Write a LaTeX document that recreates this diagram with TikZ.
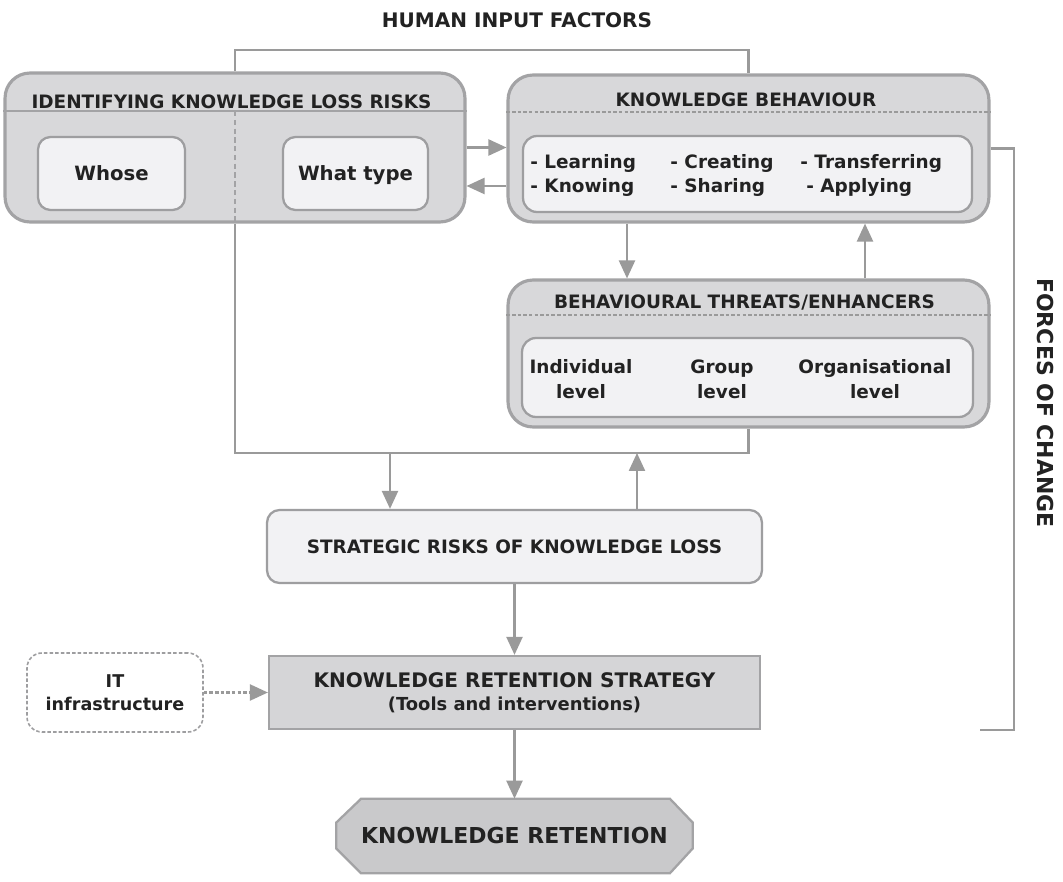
\documentclass[tikz,border=0pt]{standalone}
\usepackage{fontspec}
\setmainfont{DejaVu Sans}
\usetikzlibrary{arrows.meta,calc}
\definecolor{outerfill}{HTML}{D8D8DA}
\definecolor{outerbord}{HTML}{A3A3A5}
\definecolor{innerfill}{HTML}{F2F2F4}
\definecolor{innerbord}{HTML}{9E9EA0}
\definecolor{linec}{HTML}{9A9A9A}
\definecolor{txt}{HTML}{222222}
\definecolor{krsfill}{HTML}{D5D5D7}
\definecolor{krfill}{HTML}{C9C9CB}
\begin{document}
\begin{tikzpicture}[x=0.02cm,y=-0.02cm,
 outerbox/.style={draw=outerbord, fill=outerfill, line width=1.8pt, rounded corners=0.5cm, inner sep=0pt},
 innerbox/.style={draw=innerbord, fill=innerfill, line width=1.3pt, rounded corners=0.28cm, inner sep=0pt},
 lbl/.style={text=txt, font=\bfseries\fontsize{10.5}{13}\selectfont, inner sep=0pt},
 conn/.style={draw=linec, line width=1.3pt},
 arr/.style={conn, -{Triangle[length=0.36cm,width=0.32cm]}},
 dashsep/.style={draw=linec, line width=0.8pt, dash pattern=on 2pt off 1.2pt},
]
\fill[white] (0,0) rectangle (1063,882);
\useasboundingbox (0,0) rectangle (1063,882);

% title
\node[lbl, font=\bfseries\fontsize{11.4}{13}\selectfont] (hif) at (517,20) {HUMAN INPUT FACTORS};

% outer boxes
\node[outerbox, minimum width=9.2cm, minimum height=2.98cm] (iklr) at (235,147.5) {};
\node[outerbox, minimum width=9.62cm, minimum height=2.94cm] (kb) at (748.5,148.5) {};
\node[outerbox, minimum width=9.62cm, minimum height=2.94cm] (bt) at (748.5,353.5) {};

% header separators
\draw[draw=outerbord, line width=1.2pt] (iklr.west |- 0,111) -- (iklr.east |- 0,111);
\draw[outerbord, line width=0.8pt, dash pattern=on 3pt off 2pt] (iklr.center |- 0,111) -- (iklr.south);
\draw[dashsep] (kb.west |- 0,112) -- (kb.east |- 0,112);
\draw[dashsep] (bt.west |- 0,315) -- (bt.east |- 0,315);

% headers
\node[lbl] (iklrhead) at (231.5,102) {IDENTIFYING KNOWLEDGE LOSS RISKS};
\node[lbl] (kbhead) at (746,100) {KNOWLEDGE BEHAVIOUR};
\node[lbl] (bthead) at (744.5,303) {BEHAVIOURAL THREATS/ENHANCERS};

% inner boxes
\node[innerbox, rounded corners=0.25cm, minimum width=2.94cm, minimum height=1.46cm, text depth=0pt,
      font=\bfseries\fontsize{11.2}{13}\selectfont, text=txt] (whose) at (111.5,173.5) {Whose};
\node[innerbox, rounded corners=0.25cm, minimum width=2.9cm, minimum height=1.46cm, text depth=0pt,
      font=\bfseries\fontsize{11.2}{13}\selectfont, text=txt] (whattype) at (355.5,173.5) {What type};
\node[innerbox, minimum width=8.98cm, minimum height=1.52cm] (kbin) at (747.5,174) {};
\node[innerbox, minimum width=9.02cm, minimum height=1.58cm] (btin) at (747.5,377.5) {};

% knowledge behaviour items
\node[lbl, anchor=base west] (learning) at (530,169) {-\hspace{0.35em}Learning};
\node[lbl, anchor=base west] (creating) at (670,169) {-\hspace{0.35em}Creating};
\node[lbl, anchor=base west] (transferring) at (800,169) {-\hspace{0.35em}Transferring};
\node[lbl, anchor=base west] (knowing) at (530,193) {-\hspace{0.35em}Knowing};
\node[lbl, anchor=base west] (sharing) at (670,193) {-\hspace{0.35em}Sharing};
\node[lbl, anchor=base west] (applying) at (806,193) {-\hspace{0.35em}Applying};

% levels
\node[lbl, align=center, font=\bfseries\fontsize{10.5}{14}\selectfont] (indiv) at (581,379) {Individual\\level};
\node[lbl, align=center, font=\bfseries\fontsize{10.5}{14}\selectfont] (group) at (722,379) {Group\\level};
\node[lbl, align=center, font=\bfseries\fontsize{10.5}{14}\selectfont] (organ) at (875,379) {Organisational\\level};

% strategic risks
\node[innerbox, rounded corners=0.25cm, minimum width=9.9cm, minimum height=1.46cm,
      font=\bfseries\fontsize{10.5}{13}\selectfont, text=txt] (sr) at (514.5,546.5) {STRATEGIC RISKS OF KNOWLEDGE LOSS};

% retention strategy
\node[draw=outerbord, fill=krsfill, line width=1.3pt, inner sep=0pt, minimum width=9.82cm, minimum height=1.46cm,
      align=center, text=txt, font=\bfseries\fontsize{11.4}{13}\selectfont] (krs) at (514.5,692.5)
      {KNOWLEDGE RETENTION STRATEGY\\{\fontsize{10.2}{12}\selectfont (Tools and interventions)}};

% IT infrastructure
\node[draw=innerbord, fill=white, dash pattern=on 2pt off 1.2pt, line width=0.9pt, rounded corners=0.3cm,
      inner sep=0pt, minimum width=3.52cm, minimum height=1.58cm, align=center, text=txt,
      font=\bfseries\fontsize{10}{13}\selectfont] (it) at (115,692.5) {IT\\infrastructure};

% knowledge retention (chamfered)
\path (514.5,836) node[inner sep=0pt, minimum width=7.12cm, minimum height=1.48cm] (kr) {};
\filldraw[draw=outerbord, fill=krfill, line width=1.3pt]
  ($(kr.north west)+(25,0)$) -- ($(kr.north east)+(-23,0)$) -- ($(kr.north east)+(0,24)$)
  -- ($(kr.south east)+(0,-25)$) -- ($(kr.south east)+(-23,0)$) -- ($(kr.south west)+(25,0)$)
  -- ($(kr.south west)+(0,-25)$) -- ($(kr.north west)+(0,24)$) -- cycle;
\node[lbl, font=\bfseries\fontsize{12.5}{14}\selectfont] (krlabel) at (kr) {KNOWLEDGE RETENTION};

% forces of change
\node[lbl, font=\bfseries\fontsize{12.5}{14}\selectfont, rotate=-90] (forces) at (1045,403) {FORCES OF CHANGE};
\coordinate (fcend) at (980,730);
\draw[conn] (kb.east) -- (kb.east -| 1014,0) |- (fcend);

% connectors
\draw[conn] (iklr.north) -- (iklr.north |- 0,50) -| (kb.north);
\draw[arr] (iklr.east) -- (iklr.east -| kb.west);
\draw[arr] ([yshift=-0.75cm]kb.west) -- ([yshift=-0.75cm]kb.west -| iklr.east);
\draw[arr] (kb.south -| 627,0) -- (bt.north -| 627,0);
\draw[arr] (bt.north -| 865,0) -- (kb.south -| 865,0);
\draw[conn] (iklr.south) -- (iklr.south |- 0,453) -| (bt.south);
\coordinate (jl) at (390,453);
\coordinate (jr) at (637,453);
\draw[arr] (jl) -- (jl |- sr.north);
\draw[arr] (jr |- sr.north) -- (jr);
\draw[arr] (sr.south) -- (krs.north);
\draw[arr] (krs.south) -- (kr.north);
\draw[arr, dash pattern=on 2pt off 1.2pt] (it.east) -- (krs.west);
\end{tikzpicture}
\end{document}
